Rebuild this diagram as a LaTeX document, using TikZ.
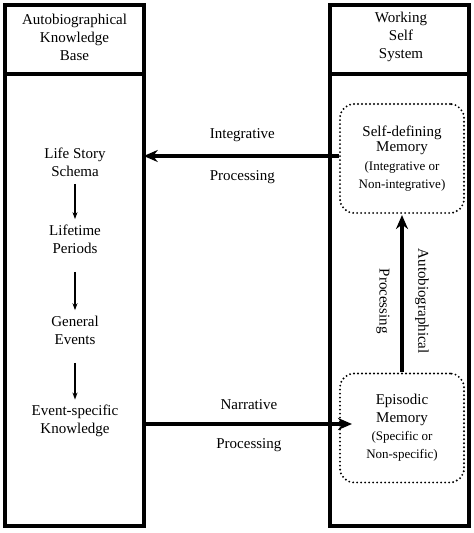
\documentclass[tikz,border=0pt]{standalone}
\usepackage{fontspec}
\setmainfont{Liberation Serif}
\usetikzlibrary{arrows.meta,positioning,calc}

\begin{document}
\begin{tikzpicture}[x=1pt,y=-1pt,
    every node/.style={font=\fontsize{15}{18}\selectfont,align=center},
    column/.style={draw,line width=3.5pt,minimum width=139pt,minimum height=521pt,inner sep=0pt},
    memory/.style={draw,line width=2.1pt,line cap=round,dash pattern=on 0pt off 4pt,rounded corners=14pt,minimum width=124pt,minimum height=109pt,inner sep=0pt},
    bigarrow/.style={line width=3.5pt,-{Stealth[length=14pt,width=12pt]}},
    thinarrow/.style={line width=1.2pt,-{Stealth[length=7pt,width=5pt]}}]
    \useasboundingbox (0,0) rectangle (474,533);
    % the two columns
    \node[column] (colL) at (74.5,265.5) {};
    \node[column] (colR) at (399.5,265.5) {};
    \draw[line width=3.5pt] (colL.west |- 0,74) -- (colL.east |- 0,74);
    \draw[line width=3.5pt] (colR.west |- 0,74) -- (colR.east |- 0,74);
    \node (akb) at (74.5,37) {Autobiographical\\Knowledge\\Base};
    \node (wss) at (401,37) {Working\\Self\\System};
    % knowledge base
    \node (lss) at (75,162) {Life Story\\Schema};
    \node (ltp) at (75,239) {Lifetime\\Periods};
    \node (ge) at (75,330) {General\\Events};
    \node (esk) at (75,421) {Event-specific\\Knowledge};
    \draw[thinarrow,shorten <=4pt,shorten >=2pt] (lss) -- (ltp);
    \draw[thinarrow,shorten <=15pt,shorten >=2pt] (ltp) -- (ge);
    \draw[thinarrow,shorten <=15pt,shorten >=2pt] (ge) -- (esk);
    % working self
    \node[memory] (sdm) at (402,158.5) {Self-defining\\[-3pt]Memory\\[1pt]{\fontsize{13}{16}\selectfont (Integrative or}\\{\fontsize{13}{16}\selectfont Non-integrative)}};
    \node[memory] (epi) at (402,428) {Episodic\\Memory\\{\fontsize{13}{16}\selectfont (Specific or}\\{\fontsize{13}{16}\selectfont Non-specific)}};
    % processing arrows
    \draw[bigarrow,shorten >=-2pt] ($(sdm.west)+(0,-2.5)$) -- ($(colL.east |- sdm.west)+(0,-2.5)$)
        node[midway,above=9pt] {Integrative} node[midway,below=9pt] {Processing};
    \draw[bigarrow] ($(colL.east |- epi.west)+(0,-4)$) -- ($(epi.west)+(13,-4)$)
        node[midway,above=9pt] {Narrative} node[midway,below=9pt] {Processing};
    \draw[bigarrow,shorten >=1pt] (epi.north) -- (sdm.south)
        node[pos=0.45,xshift=20pt,rotate=-90] {Autobiographical}
        node[pos=0.45,xshift=-19pt,rotate=-90] {Processing};
\end{tikzpicture}
\end{document}
